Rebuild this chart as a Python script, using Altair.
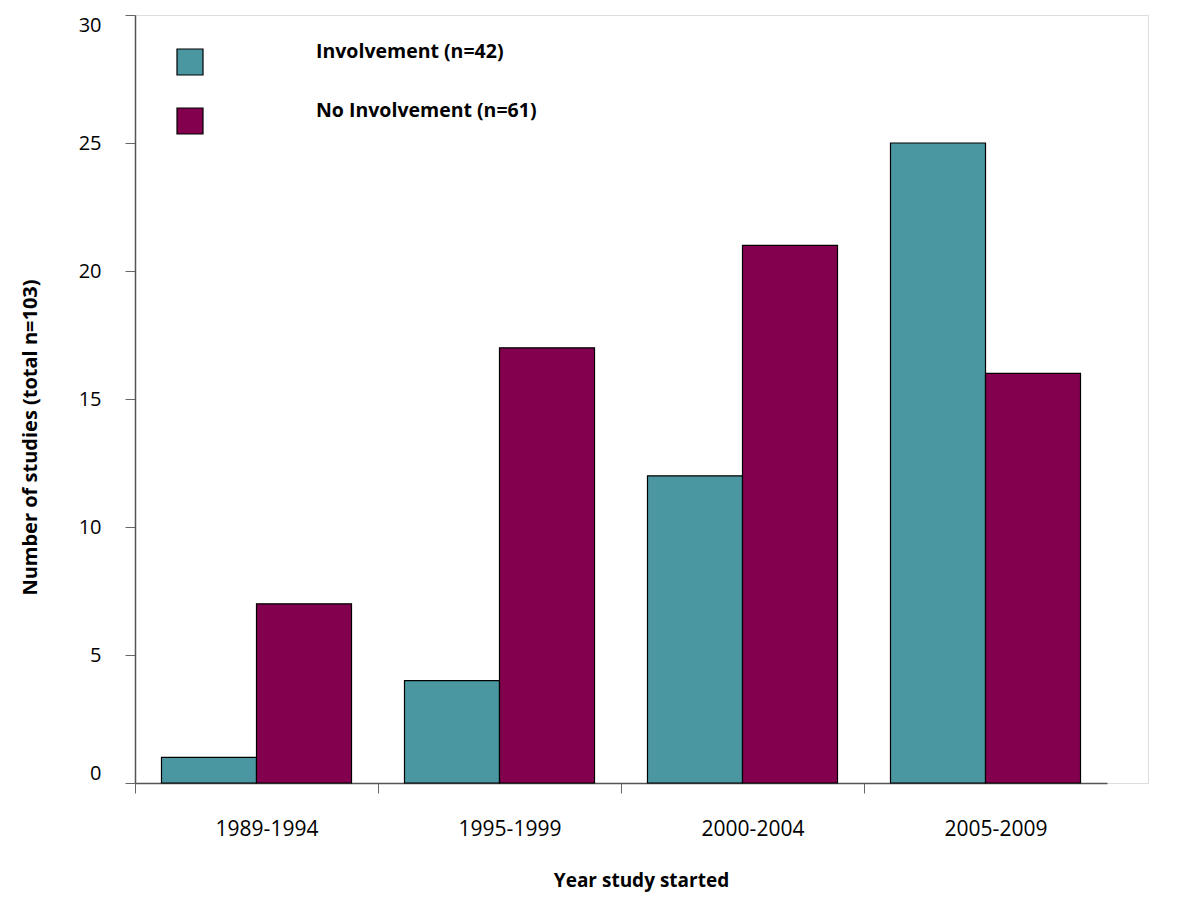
import altair as alt
import pandas as pd

periods = ["1989-1994", "1995-1999", "2000-2004", "2005-2009"]
involvement = [1, 4, 12, 25]
no_involvement = [7, 17, 21, 16]
series = ["Involvement (n=42)", "No Involvement (n=61)"]
colors = ["#4a97a1", "#83004f"]
y_ticks = [0, 5, 10, 15, 20, 25, 30]

rows = []
for p, a, b in zip(periods, involvement, no_involvement):
    rows.append({"period": p, "series": series[0], "count": a})
    rows.append({"period": p, "series": series[1], "count": b})
df = pd.DataFrame(rows)

FONT = "Open Sans"

chart = alt.Chart(df).mark_bar(stroke="black", strokeWidth=1.2).encode(
    x=alt.X(
        "period:N",
        sort=periods,
        scale=alt.Scale(range=[0, 972], paddingInner=0.218, paddingOuter=0.109),
        axis=alt.Axis(
            title="Year study started",
            labelAngle=0,
            labelFont=FONT,
            labelFontSize=21,
            labelColor="black",
            labelPadding=25,
            labelOffset=131.5,
            tickSize=10,
            tickOffset=-121.5,
            tickColor="#666",
            domainColor="#555",
            domainWidth=1.5,
            titleFont=FONT,
            titleFontSize=19,
            titleFontWeight="bold",
            titleColor="black",
            titlePadding=32,
            titleX=506,
            titleAnchor="middle",
        ),
    ),
    xOffset=alt.XOffset("series:N", sort=series),
    y=alt.Y(
        "count:Q",
        scale=alt.Scale(domain=[0, 30], nice=False),
        axis=alt.Axis(
            title="Number of studies (total n=103)",
            values=y_ticks,
            grid=False,
            labelFont=FONT,
            labelFontSize=20,
            labelColor="black",
            labelPadding=24,
            labelFlush=True,
            tickSize=10,
            tickColor="#666",
            domainColor="#555",
            domainWidth=1.5,
            titleFont=FONT,
            titleFontSize=20,
            titleFontWeight="bold",
            titleColor="black",
            titlePadding=38,
            titleY=422,
        ),
    ),
    color=alt.Color(
        "series:N",
        scale=alt.Scale(domain=series, range=colors),
        legend=alt.Legend(
            orient="none",
            legendX=41,
            legendY=33,
            title=None,
            padding=0,
            symbolType="square",
            symbolSize=676,
            symbolStrokeColor="black",
            symbolStrokeWidth=1.2,
            labelFont=FONT,
            labelFontSize=19.5,
            labelFontWeight="bold",
            labelColor="black",
            labelOffset=112,
            labelBaseline="bottom",
            labelLimit=400,
            rowPadding=23,
        ),
    ),
).properties(
    width=1013,
    height=768,
    autosize=alt.AutoSizeParams(type="none"),
    padding={"left": 127, "top": 7, "right": 30, "bottom": 115},
).configure_view(
    stroke="#999",
    strokeWidth=1.5,
).configure(background="white")

chart.save("out.html", embed_options={"renderer": "svg", "actions": False})
